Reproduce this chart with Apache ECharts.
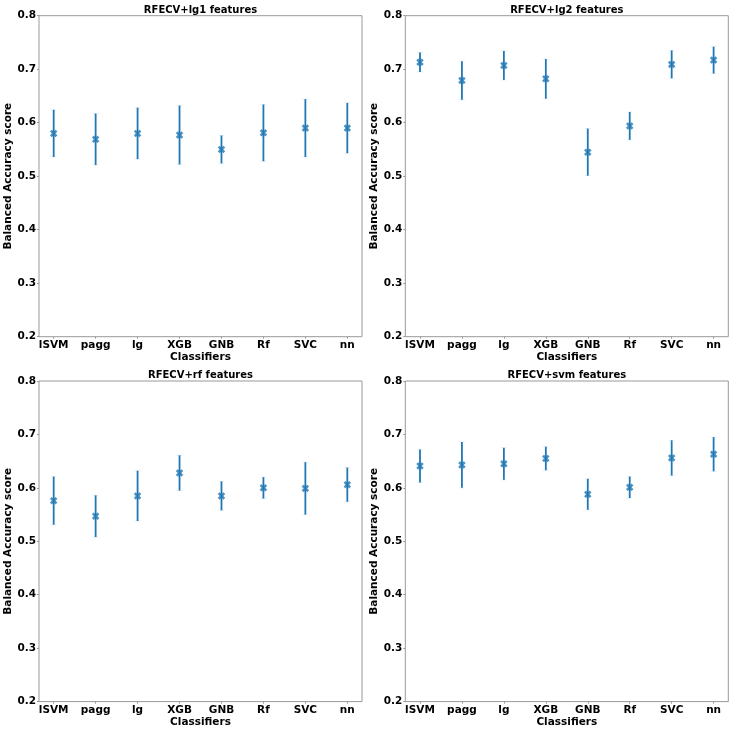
<!DOCTYPE html>
<html>
<head>
<meta charset="utf-8">
<script src="https://cdn.jsdelivr.net/npm/echarts@6/dist/echarts.min.js"></script>
<style>
html,body{margin:0;padding:0;background:#fff;}
#chart{width:736px;height:729px;}
</style>
</head>
<body>
<div id="chart"></div>
<script>
// ---- data ----
const categories = ['lSVM', 'pagg', 'lg', 'XGB', 'GNB', 'Rf', 'SVC', 'nn'];
const yTicks = [0.2, 0.3, 0.4, 0.5, 0.6, 0.7, 0.8];
const panelTitles = ['RFECV+lg1 features', 'RFECV+lg2 features', 'RFECV+rf features', 'RFECV+svm features'];

const lg1Mean = [0.580, 0.569, 0.580, 0.577, 0.550, 0.581, 0.590, 0.590];
const lg1Err  = [0.044, 0.048, 0.048, 0.055, 0.026, 0.053, 0.054, 0.047];

const lg2Mean = [0.713, 0.679, 0.707, 0.682, 0.545, 0.594, 0.709, 0.717];
const lg2Err  = [0.018, 0.036, 0.027, 0.037, 0.044, 0.026, 0.026, 0.025];

const rfMean  = [0.576, 0.547, 0.585, 0.628, 0.585, 0.600, 0.599, 0.606];
const rfErr   = [0.045, 0.039, 0.047, 0.033, 0.027, 0.020, 0.049, 0.032];

const svmMean = [0.641, 0.643, 0.645, 0.655, 0.588, 0.601, 0.656, 0.663];
const svmErr  = [0.031, 0.043, 0.030, 0.022, 0.029, 0.020, 0.033, 0.032];

const panelMeans = [lg1Mean, lg2Mean, rfMean, svmMean];
const panelErrs = [lg1Err, lg2Err, rfErr, svmErr];

// ---- layout ----
const BLUE = '#1f77b4';
const FONT = 'DejaVu Sans';
const grids = [
  {left: 39, top: 15.7, width: 323, height: 321},
  {left: 405.3, top: 15.7, width: 323, height: 321},
  {left: 39, top: 381, width: 323, height: 321.7},
  {left: 405.3, top: 381, width: 323, height: 321.7}
];
const XMARK = 'path://M0.25,0 L0.5,0.25 L0.75,0 L1,0.25 L0.75,0.5 L1,0.75 L0.75,1 L0.5,0.75 L0.25,1 L0,0.75 L0.25,0.5 L0,0.25 Z';

const option = {
  backgroundColor: '#fff',
  animation: false,
  title: [], grid: [], xAxis: [], yAxis: [], series: []
};

grids.forEach((g, i) => {
  option.grid.push({
    left: g.left, top: g.top, width: g.width, height: g.height,
    show: true, borderColor: '#999', borderWidth: 1, backgroundColor: 'transparent',
    containLabel: false
  });
  option.title.push({
    text: panelTitles[i],
    left: g.left + g.width / 2, top: g.top - 10.5, textAlign: 'center', padding: 0,
    textStyle: {fontFamily: FONT, fontWeight: 'bold', fontSize: 10, color: '#000'}
  });
  const idx = categories.map((c, k) => k);
  option.xAxis.push({
    type: 'value', gridIndex: i, min: -0.35, max: 7.35,
    name: 'Classifiers', nameLocation: 'middle', nameGap: 13,
    nameTextStyle: {fontFamily: FONT, fontWeight: 'bold', fontSize: 10.5, color: '#000'},
    axisLine: {show: false, onZero: false},
    axisTick: {show: true, customValues: idx, length: 2, lineStyle: {color: '#999'}},
    axisLabel: {
      customValues: idx, margin: 3.5,
      fontFamily: FONT, fontWeight: 'bold', fontSize: 10.5, color: '#000',
      formatter: v => categories[Math.round(v)]
    },
    splitLine: {show: false}
  });
  option.yAxis.push({
    type: 'value', gridIndex: i, min: yTicks[0], max: yTicks[yTicks.length - 1], interval: 0.1,
    name: 'Balanced Accuracy score', nameLocation: 'middle', nameGap: 18.5,
    nameTextStyle: {fontFamily: FONT, fontWeight: 'bold', fontSize: 10.5, color: '#000'},
    axisLine: {show: false, onZero: false},
    axisTick: {show: true, length: 2, lineStyle: {color: '#999'}},
    axisLabel: {
      margin: 3, fontFamily: FONT, fontWeight: 'bold', fontSize: 10.5, color: '#000',
      formatter: v => v.toFixed(1)
    },
    splitLine: {show: false}
  });
  const means = panelMeans[i], errs = panelErrs[i];
  option.series.push({
    type: 'custom', xAxisIndex: i, yAxisIndex: i,
    data: means.map((m, k) => [k, m - errs[k], m + errs[k]]),
    renderItem: (params, api) => {
      const x = api.value(0);
      const lo = api.coord([x, api.value(1)]);
      const hi = api.coord([x, api.value(2)]);
      const capW = 3;
      return {
        type: 'group',
        children: [
          {type: 'line', shape: {x1: lo[0], y1: lo[1], x2: hi[0], y2: hi[1]},
           style: {stroke: BLUE, lineWidth: 1.8}},
          {type: 'line', shape: {x1: lo[0] - capW, y1: lo[1], x2: lo[0] + capW, y2: lo[1]},
           style: {stroke: 'rgba(31,119,180,0.12)', lineWidth: 1}},
          {type: 'line', shape: {x1: hi[0] - capW, y1: hi[1], x2: hi[0] + capW, y2: hi[1]},
           style: {stroke: 'rgba(31,119,180,0.12)', lineWidth: 1}}
        ]
      };
    },
    z: 2
  });
  option.series.push({
    type: 'scatter', xAxisIndex: i, yAxisIndex: i,
    data: means.map((m, k) => [k, m]),
    symbol: XMARK, symbolSize: 7.5,
    itemStyle: {color: BLUE},
    z: 3
  });
});

const chart = echarts.init(document.getElementById('chart'), null, {renderer: 'canvas'});
chart.setOption(option);
</script>
</body>
</html>
